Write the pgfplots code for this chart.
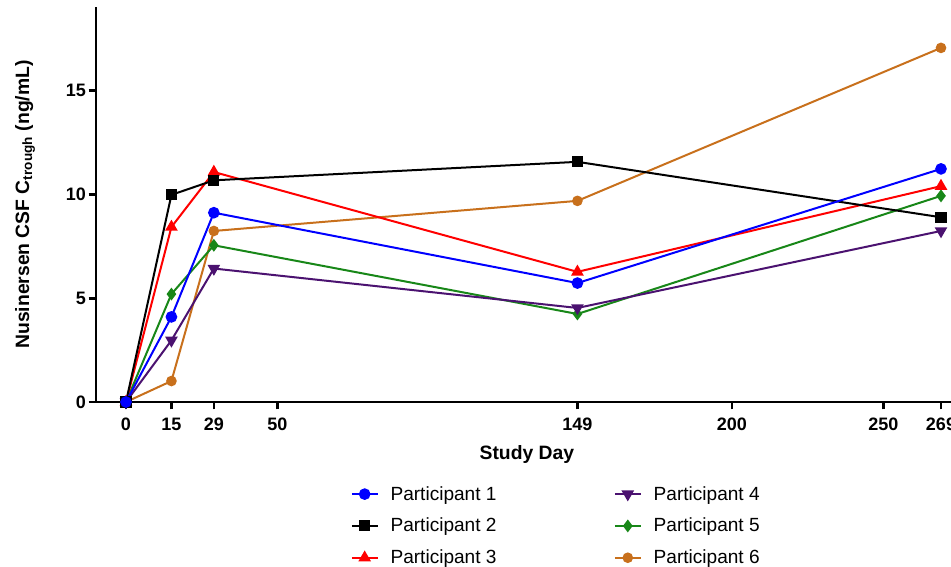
\documentclass[border=0pt]{standalone}
\usepackage{fontspec}
\setmainfont{Liberation Sans}
\usepackage{pgfplots}
\pgfplotsset{compat=1.18}
\definecolor{pblue}{RGB}{0,0,255}
\definecolor{pred}{RGB}{255,0,0}
\definecolor{ppurple}{RGB}{75,18,112}
\definecolor{pgreen}{RGB}{24,135,24}
\definecolor{porange}{RGB}{200,112,28}
\begin{document}
\begin{tikzpicture}
\begin{axis}[
  scale only axis, width=641.25pt, height=296.25pt,
  at={(0,0)}, anchor=south west,
  xmin=-9.9, xmax=272.3, ymin=0, ymax=19.03,
  axis lines*=left,
  axis line style={line width=2.2pt},
  clip=false,
  xtick={0,15,29,50,149,200,250,269},
  ytick={0,5,10,15},
  tick align=outside,
  major tick length=5.5pt,
  tick style={line width=2pt, black},
  /pgf/number format/assume math mode=true,
  tick label style={font=\bfseries\fontsize{13.5}{13.5}\selectfont},
  xticklabel style={yshift=-3pt},
  yticklabel style={xshift=1.5pt},
  xlabel={\bfseries Study Day},
  ylabel={\bfseries Nusinersen CSF C\textsubscript{trough} (ng/mL)},
  label style={font=\fontsize{14.5}{14.5}\selectfont},
  xlabel style={at={(axis description cs:0.504,-0.134)}, anchor=center},
  ylabel style={at={(axis description cs:-0.083,0.5)}, anchor=center},
  every axis plot/.append style={line width=1.5pt},
  legend style={at={(axis description cs:0.293,-0.199)}, anchor=north west,
    draw=none, fill=none, font=\fontsize{14.3}{14.3}\selectfont,
    row sep=8pt,
    /tikz/every odd column/.append style={column sep=7pt},
    /tikz/every even column/.append style={column sep=86pt}},
  legend columns=3,
  transpose legend,
  reverse legend,
  legend cell align=left,
  legend image code/.code={\draw[mark repeat=2,mark phase=2] plot coordinates {(0cm,0cm) (0.34cm,0cm) (0.68cm,0cm)};},
]
\addplot[porange, mark=*, mark size=3.2pt] coordinates {(0,0) (15,1.01) (29,8.24) (149,9.69) (269,17.06)};
\addlegendentry{Participant 6}
\addplot[pgreen, mark=diamond*, mark size=3.6pt] coordinates {(0,0) (15,5.2) (29,7.55) (149,4.24) (269,9.93)};
\addlegendentry{Participant 5}
\addplot[ppurple, mark=triangle*, mark size=4pt, mark options={rotate=180}] coordinates {(0,0) (15,2.97) (29,6.43) (149,4.53) (269,8.24)};
\addlegendentry{Participant 4}
\addplot[pred, mark=triangle*, mark size=4pt] coordinates {(0,0) (15,8.43) (29,11.08) (149,6.27) (269,10.4)};
\addlegendentry{Participant 3}
\addplot[black, mark=square*, mark size=3.4pt] coordinates {(0,0) (15,9.98) (29,10.68) (149,11.57) (269,8.9)};
\addlegendentry{Participant 2}
\addplot[pblue, mark=*, mark size=3.6pt] coordinates {(0,0) (15,4.1) (29,9.12) (149,5.73) (269,11.23)};
\addlegendentry{Participant 1}
\end{axis}
\pgfresetboundingbox
\useasboundingbox (-72pt,-123.75pt) rectangle (641.25pt,301.5pt);
\end{tikzpicture}
\end{document}
